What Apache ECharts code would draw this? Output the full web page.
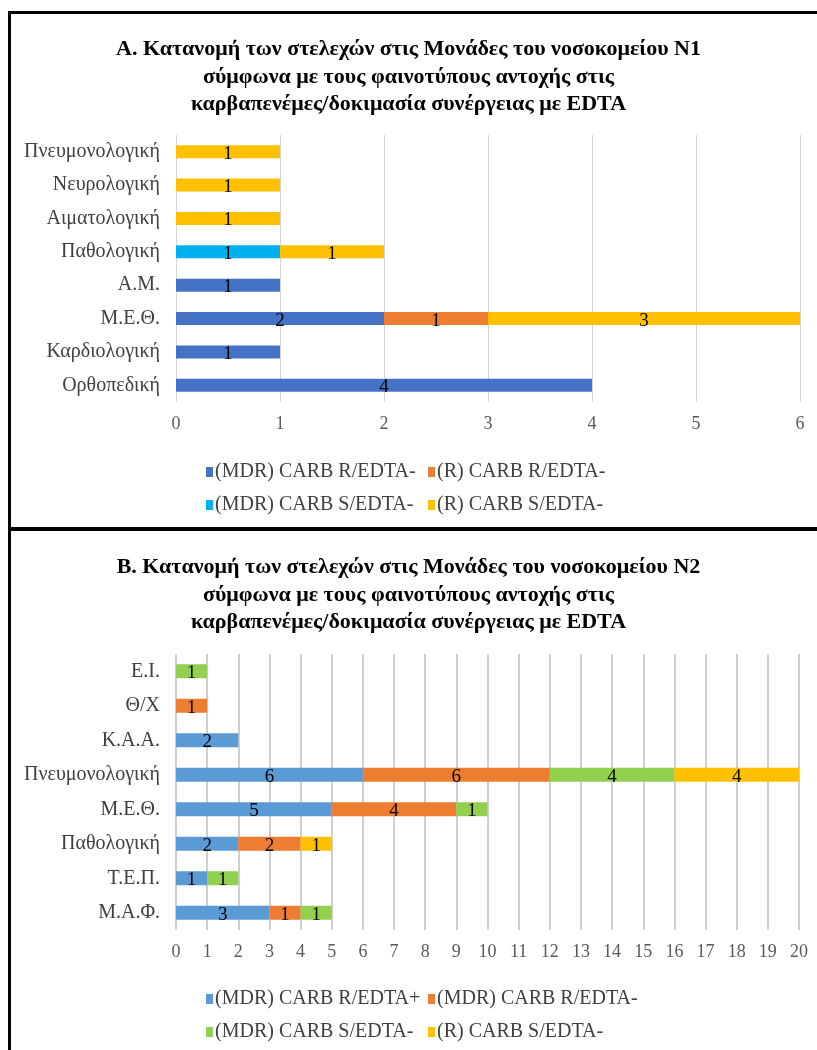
<!DOCTYPE html>
<html>
<head>
<meta charset="utf-8">
<script src="https://cdn.jsdelivr.net/npm/echarts@6/dist/echarts.min.js"></script>
<style>
  html, body { margin: 0; padding: 0; background: #fff; }
  #page { position: relative; width: 817px; height: 1050px; overflow: hidden; }
  .chart { position: absolute; left: 0; width: 817px; }
  #chartA { top: 0; height: 528px; }
  #chartB { top: 528px; height: 522px; }
  .rule { position: absolute; background: #000; }
</style>
</head>
<body>
<div id="page">
  <div id="chartA" class="chart"></div>
  <div id="chartB" class="chart"></div>
  <div class="rule" style="left:8px; top:11px; width:809px; height:3px;"></div>
  <div class="rule" style="left:8px; top:527px; width:809px; height:4px;"></div>
  <div class="rule" style="left:8px; top:11px; width:3px; height:1039px;"></div>
</div>
<script>
// Hospital N1: units and resistance phenotype counts
const unitsA = ['Πνευμονολογική', 'Νευρολογική', 'Αιματολογική', 'Παθολογική', 'Α.Μ.', 'Μ.Ε.Θ.', 'Καρδιολογική', 'Ορθοπεδική'];
const seriesNamesA = ['(MDR) CARB R/EDTA-', '(R) CARB R/EDTA-', '(MDR) CARB S/EDTA-', '(R) CARB S/EDTA-'];
const mdrRedtaMinusA = [null, null, null, null, 1, 2, 1, 4];
const rRedtaMinusA   = [null, null, null, null, null, 1, null, null];
const mdrSedtaMinusA = [null, null, null, 1, null, null, null, null];
const rSedtaMinusA   = [1, 1, 1, 1, null, 3, null, null];
const ticksA = { min: 0, max: 6, interval: 1 };

// Hospital N2: units and resistance phenotype counts
const unitsB = ['Ε.Ι.', 'Θ/Χ', 'Κ.Α.Α.', 'Πνευμονολογική', 'Μ.Ε.Θ.', 'Παθολογική', 'Τ.Ε.Π.', 'Μ.Α.Φ.'];
const seriesNamesB = ['(MDR) CARB R/EDTA+', '(MDR) CARB R/EDTA-', '(MDR) CARB S/EDTA-', '(R) CARB S/EDTA-'];
const mdrRedtaPlusB  = [null, null, 2, 6, 5, 2, 1, 3];
const mdrRedtaMinusB = [null, 1, null, 6, 4, 2, null, 1];
const mdrSedtaMinusB = [1, null, null, 4, 1, null, 1, 1];
const rSedtaMinusB   = [null, null, null, 4, null, 1, null, null];
const ticksB = { min: 0, max: 20, interval: 1 };

const titleA = 'Α. Κατανομή των στελεχών στις Μονάδες του νοσοκομείου Ν1\nσύμφωνα με τους φαινοτύπους αντοχής στις\nκαρβαπενέμες/δοκιμασία συνέργειας με EDTA';
const titleB = 'Β. Κατανομή των στελεχών στις Μονάδες του νοσοκομείου Ν2\nσύμφωνα με τους φαινοτύπους αντοχής στις\nκαρβαπενέμες/δοκιμασία συνέργειας με EDTA';

const FONT = '"Liberation Serif", "Times New Roman", serif';

function buildOption(cfg) {
  const series = cfg.values.map((vals, i) => ({
    name: cfg.names[i],
    type: 'bar',
    stack: 'total',
    barWidth: cfg.barWidth,
    itemStyle: { color: cfg.colors[i] },
    label: {
      show: true,
      position: 'inside',
      color: '#000',
      fontFamily: FONT,
      fontSize: 19,
      offset: [0, 2]
    },
    data: vals
  }));
  const legends = cfg.names.map((n, i) => ({
    data: [n],
    left: cfg.legendPos[i][0],
    top: cfg.legendPos[i][1],
    itemWidth: 7,
    itemHeight: 10,
    itemGap: 4,
    icon: 'rect',
    selectedMode: false,
    textStyle: { fontFamily: FONT, fontSize: 20, color: '#404040', padding: [0, 0, 0, -3] }
  }));
  return {
    animation: false,
    title: {
      text: cfg.title,
      left: 'center',
      top: cfg.titleTop,
      textStyle: { fontFamily: FONT, fontWeight: 'bold', fontSize: 22, lineHeight: 27.5, color: '#000' }
    },
    legend: legends,
    grid: cfg.grid,
    xAxis: {
      type: 'value',
      min: cfg.ticks.min,
      max: cfg.ticks.max,
      interval: cfg.ticks.interval,
      axisLine: { show: false },
      axisTick: { show: false },
      splitLine: { show: true, lineStyle: { color: cfg.gridColor, width: cfg.gridWidth } },
      axisLabel: { fontFamily: FONT, fontSize: 18, color: '#595959', margin: 13 }
    },
    yAxis: {
      type: 'category',
      inverse: true,
      data: cfg.units,
      axisLine: { show: false },
      axisTick: { show: false },
      axisLabel: { fontFamily: FONT, fontSize: 20, color: '#404040', margin: 16 }
    },
    series: series
  };
}

const chartA = echarts.init(document.getElementById('chartA'), null, { renderer: 'canvas' });
chartA.setOption(buildOption({
  title: titleA,
  titleTop: 31,
  units: unitsA,
  names: seriesNamesA,
  values: [mdrRedtaMinusA, rRedtaMinusA, mdrSedtaMinusA, rSedtaMinusA],
  colors: ['#4472C4', '#ED7D31', '#00B0F0', '#FFC000'],
  ticks: ticksA,
  grid: { left: 176, right: 17, top: 135, bottom: 126 },
  gridColor: '#D4D4D4',
  gridWidth: 1,
  barWidth: 13,
  legendPos: [[201, 457], [423, 457], [201, 490], [423, 490]]
}));

const chartB = echarts.init(document.getElementById('chartB'), null, { renderer: 'canvas' });
chartB.setOption(buildOption({
  title: titleB,
  titleTop: 21,
  units: unitsB,
  names: seriesNamesB,
  values: [mdrRedtaPlusB, mdrRedtaMinusB, mdrSedtaMinusB, rSedtaMinusB],
  colors: ['#5B9BD5', '#ED7D31', '#92D050', '#FFC000'],
  ticks: ticksB,
  grid: { left: 176, right: 18, top: 126, bottom: 120 },
  gridColor: '#BFBFBF',
  gridWidth: 1.5,
  barWidth: 14,
  legendPos: [[201, 456], [423, 456], [201, 489], [423, 489]]
}));
</script>
</body>
</html>
